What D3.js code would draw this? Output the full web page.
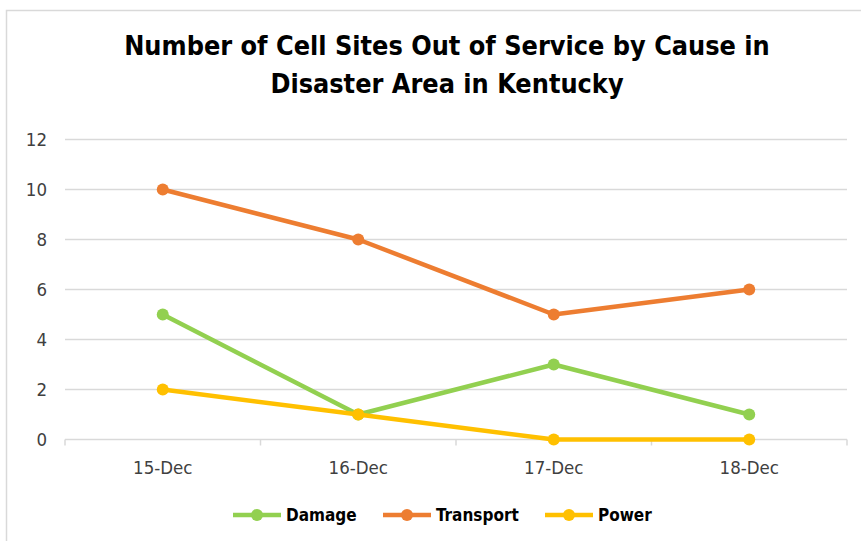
<!DOCTYPE html>
<html><head><meta charset="utf-8">
<script src="https://cdn.jsdelivr.net/npm/d3@7"></script>
<style>body{margin:0;background:#fff}svg{display:block}</style>
</head><body>
<svg id="c" width="861" height="541"></svg>
<script>
const categories = ["15-Dec","16-Dec","17-Dec","18-Dec"];
const damage = [5,1,3,1];
const transport = [10,8,5,6];
const power = [2,1,0,0];
const yTicks = [0,2,4,6,8,10,12];
const titleLines = ["Number of Cell Sites Out of Service by Cause in","Disaster Area in Kentucky"];
const seriesNames = ["Damage","Transport","Power"];
const colors = ["#92D050","#ED7D31","#FFC000"];

const series = [damage, transport, power].map((v,i)=>({name:seriesNames[i], values:v, color:colors[i]}));
const svg = d3.select("#c");
const font = "'Liberation Sans Narrow','DejaVu Sans Condensed','Liberation Sans',sans-serif";

svg.append("rect").attr("x",6.5).attr("y",10.5).attr("width",900).attr("height",600)
  .attr("fill","#fff").attr("stroke","#d9d9d9").attr("stroke-width",1.5);

const L=65, R=847, T=139.5, B=439.5;
const x = d3.scaleBand().domain(categories).range([L,R]);
const y = d3.scaleLinear().domain([0,12]).range([B,T]);

// title
svg.append("g").selectAll("text").data(titleLines).join("text")
  .attr("x",447).attr("y",(d,i)=>55+i*38).attr("text-anchor","middle")
  .attr("font-family",font).attr("font-weight","bold").attr("font-size",26.8).attr("fill","#000")
  .text(d=>d);

// grid
svg.append("g").selectAll("line").data(yTicks.filter(d=>d>0)).join("line")
  .attr("x1",L).attr("x2",R).attr("y1",d=>y(d)).attr("y2",d=>y(d))
  .attr("stroke","#d9d9d9").attr("stroke-width",1.5);

// y labels
svg.append("g").selectAll("text").data(yTicks).join("text")
  .attr("x",47).attr("y",d=>y(d)+6.5).attr("text-anchor","end")
  .attr("font-family",font).attr("font-size",18.5).attr("fill","#404040").text(d=>d);

// x axis
const gx = svg.append("g").attr("transform",`translate(0,${B})`);
gx.append("line").attr("x1",L).attr("x2",R).attr("stroke","#d9d9d9").attr("stroke-width",1.5);
const bounds = categories.map(c=>x(c)).concat([R]);
gx.selectAll("line.t").data(bounds).join("line").attr("class","t")
  .attr("x1",d=>d).attr("x2",d=>d).attr("y1",0).attr("y2",6)
  .attr("stroke","#d9d9d9").attr("stroke-width",1.5);
gx.selectAll("text.l").data(categories).join("text").attr("class","l")
  .attr("x",d=>x(d)+x.bandwidth()/2).attr("y",34).attr("text-anchor","middle")
  .attr("font-family",font).attr("font-size",18.5).attr("fill","#404040").text(d=>d);

// lines
const line = d3.line().x((d,i)=>x(categories[i])+x.bandwidth()/2).y(d=>y(d));
const sg = svg.append("g").selectAll("g").data(series).join("g");
sg.append("path").attr("d",d=>line(d.values)).attr("fill","none")
  .attr("stroke",d=>d.color).attr("stroke-width",4.5).attr("stroke-linejoin","round").attr("stroke-linecap","round");
sg.selectAll("circle").data(d=>d.values.map(v=>({v,c:d.color}))).join("circle")
  .attr("cx",(d,i)=>x(categories[i])+x.bandwidth()/2).attr("cy",d=>y(d.v)).attr("r",6).attr("fill",d=>d.c);

// legend
const legX = [233,383,545];
const lg = svg.append("g").selectAll("g").data(series).join("g")
  .attr("transform",(d,i)=>`translate(${legX[i]},515)`);
lg.append("line").attr("x1",0).attr("x2",48).attr("stroke",d=>d.color).attr("stroke-width",4.5);
lg.append("circle").attr("cx",24).attr("r",6).attr("fill",d=>d.color);
lg.append("text").attr("x",53).attr("y",6).attr("font-family",font).attr("font-weight","bold")
  .attr("font-size",17).attr("fill","#000").text(d=>d.name);
</script>
</body></html>
